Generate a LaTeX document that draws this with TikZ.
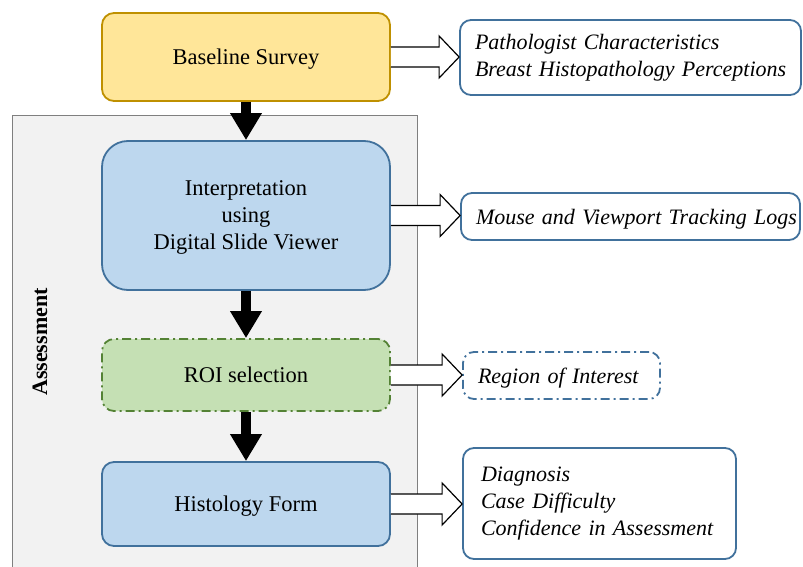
\documentclass[tikz,border=0pt]{standalone}
\usepackage{fontspec}
\setmainfont{Liberation Serif}
\usetikzlibrary{arrows.meta,calc}
\definecolor{ylwfill}{HTML}{FFE699}
\definecolor{ylwline}{HTML}{BF9000}
\definecolor{bluefill}{HTML}{BDD7EE}
\definecolor{blueline}{HTML}{41719C}
\definecolor{grnfill}{HTML}{C5E0B4}
\definecolor{grnline}{HTML}{548235}
\definecolor{grayfill}{HTML}{F2F2F2}
\definecolor{grayline}{HTML}{7F7F7F}
\tikzset{
  mainbox/.style={draw, line width=1.8pt, minimum width=288pt, align=center,
    font=\fontsize{22.5}{27}\selectfont, inner sep=0pt, text depth=0pt},
  outbox/.style={draw=blueline, line width=1.8pt, fill=white, rounded corners=11pt,
    align=left, inner xsep=0pt, inner ysep=0pt,
    font=\fontsize{22}{27}\selectfont\itshape},
  lpad/.style={execute at begin node={\leftskip=#1\relax}},
  dashdot/.style={dash pattern=on 9pt off 4pt on 2pt off 4pt},
  downarrow/.style={line width=10pt, -{Triangle[length=27pt,width=30pt]}},
  hollow/.style={draw=black, line width=1.2pt, fill=white, line join=miter}
}
\begin{document}
\begin{tikzpicture}[x=1pt,y=-1pt]
\useasboundingbox (0,0) rectangle (803,567);
% assessment panel
\node[draw=grayline, fill=grayfill, line width=1.3pt, minimum width=405pt, minimum height=460pt,
  inner sep=0pt, anchor=north west] (panel) at (12,115) {};
\node[rotate=90, font=\fontsize{22}{26}\selectfont\bfseries] (assess) at (40,342) {Assessment};
% main boxes
\node[mainbox, draw=ylwline, fill=ylwfill, rounded corners=12pt, minimum height=88pt] (base) at (246,57) {Baseline Survey};
\node[mainbox, draw=blueline, fill=bluefill, rounded corners=26pt, minimum height=149pt] (interp) at (246,215.5) {Interpretation\\using\\Digital Slide Viewer};
\node[mainbox, draw=grnline, fill=grnfill, rounded corners=12pt, minimum height=72pt, dashdot] (roi) at (246,375) {ROI selection};
\node[mainbox, draw=blueline, fill=bluefill, rounded corners=12pt, minimum height=84pt] (hist) at (246,504) {Histology Form};
% output boxes
\node[outbox, lpad=15pt, text width=341pt, minimum height=75pt] (o1) at (630.5,57.5) {Pathologist Characteristics\\Breast Histopathology Perceptions};
\node[outbox, lpad=15pt, text width=339pt, minimum height=47pt, text depth=0pt] (o2) at (630.5,216.5) {Mouse and Viewport Tracking Logs};
\node[outbox, lpad=15pt, text width=197pt, minimum height=47pt, text depth=0pt, dashdot] (o3) at (561.5,375.5) {Region of Interest};
\node[outbox, lpad=18pt, text width=273pt, minimum height=111pt] (o4) at (599.5,503.5) {Diagnosis\\Case Difficulty\\Confidence in Assessment};
% down arrows
\draw[downarrow] (base.south) -- (interp.north);
\draw[downarrow] (interp.south) -- (roi.north);
\draw[downarrow] (roi.south) -- (hist.north);
% hollow block arrows
\foreach \a/\b in {base/o1, interp/o2, roi/o3, hist/o4}{
  \path (\a.east) coordinate (s) (\b.west |- \a.east) coordinate (t);
  \draw[hollow] ($(s)+(0,-10)$) -- ($(t)+(-20,-10)$) -- ($(t)+(-20,-21)$) -- (t)
     -- ($(t)+(-20,21)$) -- ($(t)+(-20,10)$) -- ($(s)+(0,10)$);
}
\end{tikzpicture}
\end{document}
